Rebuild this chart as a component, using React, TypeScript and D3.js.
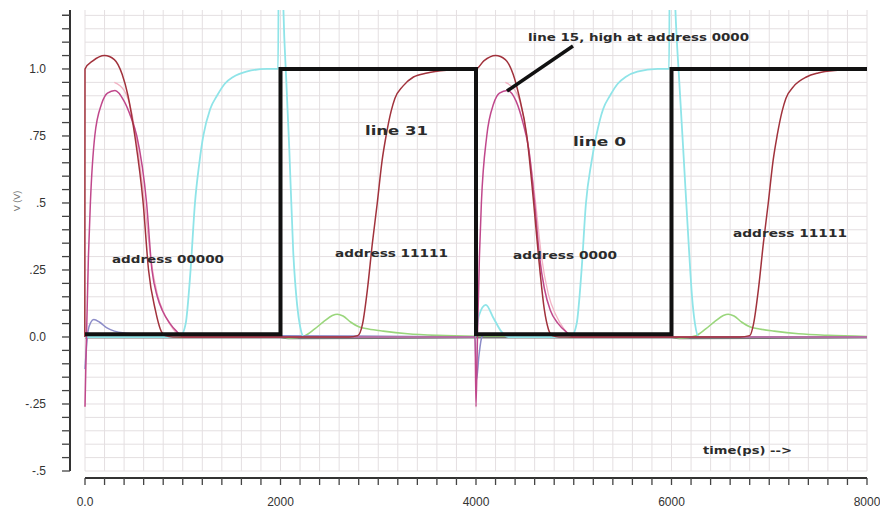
import React from "react";
import * as d3 from "d3";

// waveform samples, [time in ps, volts]
const line31: [number, number][] = [
  [-2, 0.0], [0, 1.0], [80, 1.03], [200, 1.05], [300, 1.035], [380, 0.98], [440, 0.9], [510, 0.75], [595, 0.5],
  [650, 0.25], [720, 0.1], [770, 0.03], [820, 0.005], [900, 0], [2700, 0], [2790, 0.005], [2840, 0.05],
  [2890, 0.18], [2940, 0.35], [2990, 0.5], [3040, 0.66], [3080, 0.75], [3130, 0.84], [3170, 0.89],
  [3250, 0.935], [3360, 0.97], [3500, 0.985], [3700, 0.995], [4000, 1.0],
  [4080, 1.03], [4200, 1.05], [4300, 1.035], [4380, 0.98], [4440, 0.9], [4520, 0.75], [4590, 0.5],
  [4640, 0.3], [4700, 0.1], [4740, 0.03], [4780, 0.005], [4850, 0], [6700, 0], [6800, 0.005],
  [6840, 0.05], [6890, 0.18], [6940, 0.35], [6990, 0.5], [7040, 0.66], [7080, 0.75], [7130, 0.84],
  [7170, 0.89], [7250, 0.935], [7380, 0.97], [7500, 0.985], [7700, 0.995], [8000, 1.0],
];

const line15: [number, number][] = [
  [0, -0.26], [15, 0.0], [35, 0.3], [55, 0.5], [100, 0.75], [170, 0.87], [230, 0.91], [307, 0.92],
  [400, 0.88], [470, 0.82], [530, 0.75], [630, 0.5], [685, 0.25], [740, 0.15], [790, 0.1], [870, 0.05],
  [940, 0.02], [1010, 0], [3990, 0],
  [4000, -0.26], [4015, 0.0], [4035, 0.3], [4055, 0.5], [4110, 0.75], [4180, 0.87], [4240, 0.91],
  [4320, 0.92], [4410, 0.88], [4480, 0.8], [4540, 0.7], [4600, 0.5], [4650, 0.3], [4700, 0.18],
  [4760, 0.1], [4840, 0.05], [4920, 0.02], [5000, 0], [8000, 0],
];

const linePaleA: [number, number][] = [
  [300, 0.95], [400, 0.92], [470, 0.85], [540, 0.7], [610, 0.5], [670, 0.3], [740, 0.16], [820, 0.08],
  [900, 0.03], [970, 0.005], [1050, 0],
];
const linePaleB: [number, number][] = [
  [4300, 0.95], [4400, 0.92], [4470, 0.85], [4540, 0.7], [4610, 0.5], [4670, 0.3], [4740, 0.16],
  [4820, 0.08], [4900, 0.03], [4970, 0.005], [5050, 0],
];

const line0: [number, number][] = [
  [0, 0], [900, 0], [980, 0.005], [1030, 0.05], [1080, 0.25], [1125, 0.5], [1170, 0.65], [1210, 0.75],
  [1280, 0.85], [1350, 0.9], [1430, 0.945], [1515, 0.97], [1650, 0.99], [1860, 1.0], [1975, 1.0],
  [1985, 1.6], [2010, 1.6], [2030, 1.22], [2060, 0.95], [2090, 0.7], [2130, 0.32], [2170, 0.12],
  [2200, 0.04], [2240, 0], [3990, 0], [4030, 0.08], [4100, 0.12], [4180, 0.07], [4260, 0.02],
  [4330, 0], [4900, 0], [4980, 0.005], [5030, 0.05], [5080, 0.25], [5125, 0.5], [5180, 0.65],
  [5230, 0.75], [5300, 0.85], [5370, 0.9], [5450, 0.945], [5530, 0.97], [5650, 0.99], [5860, 1.0],
  [5975, 1.0], [5985, 1.6], [6008, 1.6], [6040, 1.22], [6080, 0.95], [6120, 0.7], [6180, 0.32],
  [6210, 0.15], [6240, 0.05], [6280, 0], [8000, 0],
];

const lineBlue: [number, number][] = [
  [0, -0.12], [30, 0.02], [60, 0.055], [90, 0.065], [150, 0.055], [220, 0.035], [300, 0.022],
  [420, 0.014], [600, 0.01], [1000, 0.008], [2000, 0.005], [3990, 0.0], [4005, -0.16], [4030, -0.07],
  [4060, 0.0], [4100, 0.012], [4200, 0.01], [6000, 0.005],
];

const lineGreen: [number, number][] = [
  [0, 0], [2000, 0], [2100, -0.004], [2250, 0.005], [2350, 0.03], [2450, 0.06], [2530, 0.08],
  [2580, 0.085], [2640, 0.078], [2720, 0.055], [2800, 0.038], [2900, 0.03], [3050, 0.022],
  [3300, 0.012], [3600, 0.006], [4000, 0.003], [6000, 0], [6100, -0.004], [6250, 0.005], [6350, 0.03],
  [6450, 0.06], [6530, 0.08], [6580, 0.085], [6640, 0.078], [6720, 0.055], [6800, 0.038],
  [6900, 0.03], [7050, 0.022], [7300, 0.012], [7600, 0.006], [8000, 0.002],
];

const lineGray: [number, number][] = [
  [0, -0.003], [2000, -0.003], [2100, -0.006], [4000, -0.003], [6000, -0.003], [6100, -0.006], [8000, -0.003],
];

const wordLine: [number, number][] = [
  [0, 0.01], [2000, 0.01], [2000, 1.0], [4000, 1.0], [4000, 0.01], [6000, 0.01], [6000, 1.0], [8000, 1.0],
];

const xTickValues = [0, 2000, 4000, 6000, 8000];
const xTickLabels = ["0.0", "2000", "4000", "6000", "8000"];
const yTickValues = [1.0, 0.75, 0.5, 0.25, 0, -0.25, -0.5];
const yTickLabels = ["1.0", ".75", ".5", ".25", "0.0", "-.25", "-.5"];

const W = 880, H = 509;
const left = 85, right = 867, top = 10, bottom = 471;

export default function App() {
  const x = d3.scaleLinear().domain([0, 8000]).range([left, right]);
  const y = d3.scaleLinear().domain([-0.5, 1.22]).range([bottom, top]);

  const smooth = d3.line<[number, number]>().x(d => x(d[0])).y(d => y(d[1])).curve(d3.curveMonotoneX);
  const straight = d3.line<[number, number]>().x(d => x(d[0])).y(d => y(d[1]));

  const minorX = d3.range(0, 8001, 200);
  const minorY = d3.range(-0.5, 1.2001, 0.05);

  const label = { fontFamily: "DejaVu Sans", fontWeight: "bold", fill: "#2b2b2b" } as const;

  return (
    <div style={{ position: "absolute", left: 0, top: 0 }}>
      <svg width={W} height={H} style={{ display: "block", background: "#fff" }}>
        <defs>
          <clipPath id="plot">
            <rect x={left - 3} y={top} width={right - left + 3} height={bottom - top} />
          </clipPath>
        </defs>

        {/* grid */}
        <g stroke="#e4dfe1" strokeWidth={1}>
          {minorX.map(t => (
            <line key={"gx" + t} x1={x(t)} x2={x(t)} y1={top} y2={bottom} />
          ))}
          {minorY.map(v => (
            <line key={"gy" + v.toFixed(2)} x1={left} x2={right} y1={y(v)} y2={y(v)} />
          ))}
        </g>

        <g clipPath="url(#plot)" fill="none">
          <path d={smooth(lineGray)!} stroke="#777" strokeWidth={1.5} />
          <path d={smooth(lineGreen)!} stroke="#9ad67c" strokeWidth={1.6} />
          <path d={smooth(lineBlue)!} stroke="#8c8cc8" strokeWidth={1.5} />
          <path d={smooth(line0)!} stroke="#8fe4e8" strokeWidth={1.8} />
          <path d={smooth(linePaleA)!} stroke="#f2b3c4" strokeWidth={1.3} />
          <path d={smooth(linePaleB)!} stroke="#f2b3c4" strokeWidth={1.3} />
          <path d={smooth(line15)!} stroke="#c0488c" strokeWidth={1.5} />
          <path d={smooth(line31)!} stroke="#a1323c" strokeWidth={1.5} />
          <path d={straight(wordLine)!} stroke="#111" strokeWidth={4} strokeLinejoin="miter" />
        </g>

        {/* y axis */}
        <line x1={70} x2={70} y1={top} y2={bottom} stroke="#333" strokeWidth={2} />
        {minorY.concat([1.2]).map(v => (
          <line key={"ty" + v.toFixed(2)} x1={62} x2={70} y1={y(v)} y2={y(v)} stroke="#444" strokeWidth={1.3} />
        ))}
        {yTickValues.map((v, i) => (
          <text key={"yl" + i} x={46} y={y(v)} dy="0.35em" textAnchor="end" fontFamily="Liberation Sans" fontSize={12} fill="#333">
            {yTickLabels[i]}
          </text>
        ))}
        <text transform="translate(20,201) rotate(-90)" textAnchor="middle" fontFamily="Liberation Sans" fontSize={9} fill="#777">
          V (V)
        </text>

        {/* x axis */}
        <line x1={left} x2={right} y1={478} y2={478} stroke="#333" strokeWidth={2} />
        {minorX.map(t => (
          <line key={"tx" + t} x1={x(t)} x2={x(t)} y1={478} y2={485} stroke="#444" strokeWidth={1.3} />
        ))}
        {xTickValues.map((t, i) => (
          <text key={"xl" + i} x={x(t)} y={506} textAnchor="middle" fontFamily="Liberation Sans" fontSize={12} fill="#333">
            {xTickLabels[i]}
          </text>
        ))}

        {/* annotations */}
        <line x1={573} y1={46} x2={507} y2={91} stroke="#111" strokeWidth={3.5} />
        <text x={528} y={41} fontSize={11} textLength={221} lengthAdjust="spacingAndGlyphs" {...label}>line 15, high at address 0000</text>
        <text x={365} y={135} fontSize={13} textLength={63} lengthAdjust="spacingAndGlyphs" {...label}>line 31</text>
        <text x={573} y={146} fontSize={13} textLength={53} lengthAdjust="spacingAndGlyphs" {...label}>line 0</text>
        <text x={112} y={263} fontSize={11} textLength={112} lengthAdjust="spacingAndGlyphs" {...label}>address 00000</text>
        <text x={335} y={257} fontSize={11} textLength={113} lengthAdjust="spacingAndGlyphs" {...label}>address 11111</text>
        <text x={513} y={259} fontSize={11} textLength={104} lengthAdjust="spacingAndGlyphs" {...label}>address 0000</text>
        <text x={733} y={237} fontSize={11} textLength={114} lengthAdjust="spacingAndGlyphs" {...label}>address 11111</text>
        <text x={703} y={454} fontSize={11} textLength={89} lengthAdjust="spacingAndGlyphs" {...label}>time(ps) --&gt;</text>
      </svg>
    </div>
  );
}
